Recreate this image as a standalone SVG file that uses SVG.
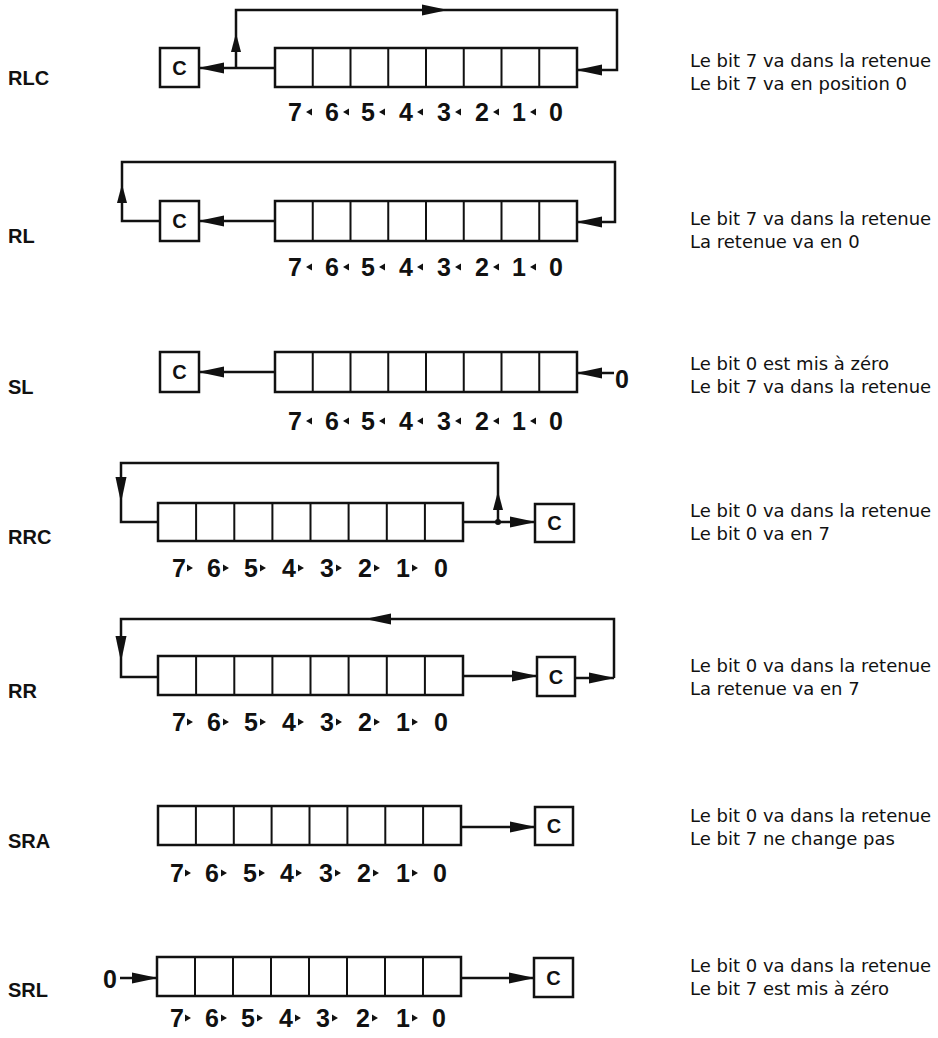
<svg xmlns="http://www.w3.org/2000/svg" xmlns:xlink="http://www.w3.org/1999/xlink" width="938" height="1038" viewBox="0 0 938 1038">
<style>
.reg{fill:#fff;stroke:#111;stroke-width:2.5}
.cell{fill:none;stroke:#111;stroke-width:2}
.cbox{fill:#fff;stroke:#111;stroke-width:2.5}
.l{fill:none;stroke:#111;stroke-width:2.5}
.a{fill:none;stroke:#111;stroke-width:2.5;marker-end:url(#ah)}
.av{fill:none;stroke:#111;stroke-width:2.5;marker-end:url(#as)}
.lbl{font-family:"Liberation Sans",Arial,sans-serif;font-weight:bold;font-size:20px;fill:#111}
.cl{font-family:"Liberation Sans",Arial,sans-serif;font-weight:bold;font-size:20px;fill:#111;text-anchor:middle}
.d{font-family:"Liberation Sans Narrow","Liberation Sans",Arial,sans-serif;font-weight:bold;font-size:25px;fill:#111;text-anchor:middle}
.desc{font-family:"DejaVu Sans",sans-serif;font-size:18px;fill:#111}
.t{fill:#111}
</style>
<defs>
<marker id="ah" markerUnits="userSpaceOnUse" markerWidth="26" markerHeight="12" viewBox="0 0 26 12" refX="25" refY="6" orient="auto"><path d="M0,0.5 L26,6 L0,11.5 z" fill="#111"/></marker>
<marker id="as" markerUnits="userSpaceOnUse" markerWidth="19" markerHeight="11" viewBox="0 0 19 11" refX="18" refY="5.5" orient="auto"><path d="M0,0.5 L19,5.5 L0,10.5 z" fill="#111"/></marker>
<path id="tL" d="M3,-3.5 L-3,0 L3,3.5 z"/>
<path id="tR" d="M-3,-3.5 L3,0 L-3,3.5 z"/>
</defs>
<rect width="938" height="1038" fill="#fff"/>

<g id="connectors">
<!-- RLC -->
<path class="a" d="M275,68 H199"/>
<path class="av" d="M236,68 V34"/>
<path class="a" d="M236,34 V10 H447"/>
<path class="a" d="M447,10 H617 V70 H577"/>
<!-- RL -->
<path class="a" d="M275,221 H199"/>
<path class="av" d="M160,221 H122 V185"/>
<path class="a" d="M122,185 V162 H615 V222 H577"/>
<!-- SL -->
<path class="a" d="M275,372 H199"/>
<path class="a" d="M614,373 H577"/>
<!-- RRC -->
<path class="a" d="M463,522 H535"/>
<circle cx="498" cy="522" r="3" fill="#111"/>
<path class="av" d="M498,522 V492"/>
<path class="a" d="M498,492 V463 H121 V502"/>
<path class="l" d="M121,502 V522 H158"/>
<!-- RR -->
<path class="a" d="M463,676 H537"/>
<path class="a" d="M575,678 H614"/>
<path class="a" d="M614,678 V619 H366"/>
<path class="a" d="M366,619 H121 V661"/>
<path class="l" d="M121,661 V677 H158"/>
<!-- SRA -->
<path class="a" d="M461,827 H535"/>
<!-- SRL -->
<path class="a" d="M461,978 H534"/>
<path class="a" d="M120,978 H157"/>
</g>

<!-- RLC -->
<g id="rlc-label"><text class="lbl" x="8" y="85">RLC</text></g>
<g id="rlc-carry"><rect class="cbox" x="160" y="48" width="39" height="39"/><text class="cl" x="179.5" y="75">C</text></g>
<g id="rlc-register">
<rect class="reg" x="275" y="48" width="302" height="39"/>
<path class="cell" d="M312.75,48V87M350.5,48V87M388.25,48V87M426,48V87M463.75,48V87M501.5,48V87M539.25,48V87"/>
<g class="d"><text x="295" y="121">7</text><text x="332" y="121">6</text><text x="368" y="121">5</text><text x="406" y="121">4</text><text x="444" y="121">3</text><text x="482" y="121">2</text><text x="519" y="121">1</text><text x="556" y="121">0</text></g>
<g class="t"><use xlink:href="#tL" x="309" y="112"/><use xlink:href="#tL" x="346" y="112"/><use xlink:href="#tL" x="382" y="112"/><use xlink:href="#tL" x="420" y="112"/><use xlink:href="#tL" x="458" y="112"/><use xlink:href="#tL" x="496" y="112"/><use xlink:href="#tL" x="533" y="112"/></g>
</g>
<g id="rlc-text"><text class="desc" x="690" y="67">Le bit 7 va dans la retenue</text><text class="desc" x="690" y="90">Le bit 7 va en position 0</text></g>

<!-- RL -->
<g id="rl-label"><text class="lbl" x="8" y="243">RL</text></g>
<g id="rl-carry"><rect class="cbox" x="160" y="201" width="39" height="40"/><text class="cl" x="179.5" y="228">C</text></g>
<g id="rl-register">
<rect class="reg" x="275" y="201" width="302" height="40"/>
<path class="cell" d="M312.75,201V241M350.5,201V241M388.25,201V241M426,201V241M463.75,201V241M501.5,201V241M539.25,201V241"/>
<g class="d"><text x="295" y="276">7</text><text x="332" y="276">6</text><text x="368" y="276">5</text><text x="406" y="276">4</text><text x="444" y="276">3</text><text x="482" y="276">2</text><text x="519" y="276">1</text><text x="556" y="276">0</text></g>
<g class="t"><use xlink:href="#tL" x="309" y="267"/><use xlink:href="#tL" x="346" y="267"/><use xlink:href="#tL" x="382" y="267"/><use xlink:href="#tL" x="420" y="267"/><use xlink:href="#tL" x="458" y="267"/><use xlink:href="#tL" x="496" y="267"/><use xlink:href="#tL" x="533" y="267"/></g>
</g>
<g id="rl-text"><text class="desc" x="690" y="225">Le bit 7 va dans la retenue</text><text class="desc" x="690" y="248">La retenue va en 0</text></g>

<!-- SL -->
<g id="sl-label"><text class="lbl" x="8" y="394">SL</text></g>
<g id="sl-carry"><rect class="cbox" x="160" y="352" width="39" height="40"/><text class="cl" x="179.5" y="379">C</text></g>
<g id="sl-register">
<rect class="reg" x="275" y="352" width="302" height="40"/>
<path class="cell" d="M312.75,352V392M350.5,352V392M388.25,352V392M426,352V392M463.75,352V392M501.5,352V392M539.25,352V392"/>
<g class="d"><text x="295" y="430">7</text><text x="332" y="430">6</text><text x="368" y="430">5</text><text x="406" y="430">4</text><text x="444" y="430">3</text><text x="482" y="430">2</text><text x="519" y="430">1</text><text x="556" y="430">0</text></g>
<g class="t"><use xlink:href="#tL" x="309" y="421"/><use xlink:href="#tL" x="346" y="421"/><use xlink:href="#tL" x="382" y="421"/><use xlink:href="#tL" x="420" y="421"/><use xlink:href="#tL" x="458" y="421"/><use xlink:href="#tL" x="496" y="421"/><use xlink:href="#tL" x="533" y="421"/></g>
</g>
<g id="sl-zero"><text class="d" x="622" y="388">0</text></g>
<g id="sl-text"><text class="desc" x="690" y="370">Le bit 0 est mis à zéro</text><text class="desc" x="690" y="393">Le bit 7 va dans la retenue</text></g>

<!-- RRC -->
<g id="rrc-label"><text class="lbl" x="8" y="544">RRC</text></g>
<g id="rrc-register">
<rect class="reg" x="158" y="503" width="305" height="38"/>
<path class="cell" d="M196.1,503V541M234.3,503V541M272.4,503V541M310.5,503V541M348.6,503V541M386.8,503V541M424.9,503V541"/>
<g class="d"><text x="179" y="577">7</text><text x="214" y="577">6</text><text x="251" y="577">5</text><text x="289" y="577">4</text><text x="327" y="577">3</text><text x="365" y="577">2</text><text x="403" y="577">1</text><text x="441" y="577">0</text></g>
<g class="t"><use xlink:href="#tR" x="190" y="568"/><use xlink:href="#tR" x="226" y="568"/><use xlink:href="#tR" x="263" y="568"/><use xlink:href="#tR" x="301" y="568"/><use xlink:href="#tR" x="339" y="568"/><use xlink:href="#tR" x="377" y="568"/><use xlink:href="#tR" x="415" y="568"/></g>
</g>
<g id="rrc-carry"><rect class="cbox" x="535" y="504" width="39" height="38"/><text class="cl" x="554.5" y="530">C</text></g>
<g id="rrc-text"><text class="desc" x="690" y="517">Le bit 0 va dans la retenue</text><text class="desc" x="690" y="540">Le bit 0 va en 7</text></g>

<!-- RR -->
<g id="rr-label"><text class="lbl" x="8" y="698">RR</text></g>
<g id="rr-register">
<rect class="reg" x="158" y="656" width="305" height="39"/>
<path class="cell" d="M196.1,656V695M234.3,656V695M272.4,656V695M310.5,656V695M348.6,656V695M386.8,656V695M424.9,656V695"/>
<g class="d"><text x="179" y="731">7</text><text x="214" y="731">6</text><text x="251" y="731">5</text><text x="289" y="731">4</text><text x="327" y="731">3</text><text x="365" y="731">2</text><text x="403" y="731">1</text><text x="441" y="731">0</text></g>
<g class="t"><use xlink:href="#tR" x="190" y="722"/><use xlink:href="#tR" x="226" y="722"/><use xlink:href="#tR" x="263" y="722"/><use xlink:href="#tR" x="301" y="722"/><use xlink:href="#tR" x="339" y="722"/><use xlink:href="#tR" x="377" y="722"/><use xlink:href="#tR" x="415" y="722"/></g>
</g>
<g id="rr-carry"><rect class="cbox" x="537" y="657" width="38" height="39"/><text class="cl" x="556" y="684">C</text></g>
<g id="rr-text"><text class="desc" x="690" y="672">Le bit 0 va dans la retenue</text><text class="desc" x="690" y="695">La retenue va en 7</text></g>

<!-- SRA -->
<g id="sra-label"><text class="lbl" x="8" y="848">SRA</text></g>
<g id="sra-register">
<rect class="reg" x="158" y="806" width="303" height="39"/>
<path class="cell" d="M195.9,806V845M233.8,806V845M271.6,806V845M309.5,806V845M347.4,806V845M385.3,806V845M423.1,806V845"/>
<g class="d"><text x="177" y="882">7</text><text x="212" y="882">6</text><text x="250" y="882">5</text><text x="287" y="882">4</text><text x="326" y="882">3</text><text x="364" y="882">2</text><text x="403" y="882">1</text><text x="440" y="882">0</text></g>
<g class="t"><use xlink:href="#tR" x="188" y="873"/><use xlink:href="#tR" x="224" y="873"/><use xlink:href="#tR" x="262" y="873"/><use xlink:href="#tR" x="299" y="873"/><use xlink:href="#tR" x="338" y="873"/><use xlink:href="#tR" x="376" y="873"/><use xlink:href="#tR" x="415" y="873"/></g>
</g>
<g id="sra-carry"><rect class="cbox" x="535" y="807" width="38" height="38"/><text class="cl" x="554" y="833">C</text></g>
<g id="sra-text"><text class="desc" x="690" y="822">Le bit 0 va dans la retenue</text><text class="desc" x="690" y="845">Le bit 7 ne change pas</text></g>

<!-- SRL -->
<g id="srl-label"><text class="lbl" x="8" y="997">SRL</text></g>
<g id="srl-zero"><text class="d" x="110" y="988">0</text></g>
<g id="srl-register">
<rect class="reg" x="157" y="957" width="304" height="39"/>
<path class="cell" d="M195,957V996M233,957V996M271,957V996M309,957V996M347,957V996M385,957V996M423,957V996"/>
<g class="d"><text x="177" y="1027">7</text><text x="212" y="1027">6</text><text x="248" y="1027">5</text><text x="286" y="1027">4</text><text x="323" y="1027">3</text><text x="363" y="1027">2</text><text x="403" y="1027">1</text><text x="439" y="1027">0</text></g>
<g class="t"><use xlink:href="#tR" x="188" y="1018"/><use xlink:href="#tR" x="224" y="1018"/><use xlink:href="#tR" x="260" y="1018"/><use xlink:href="#tR" x="298" y="1018"/><use xlink:href="#tR" x="335" y="1018"/><use xlink:href="#tR" x="375" y="1018"/><use xlink:href="#tR" x="415" y="1018"/></g>
</g>
<g id="srl-carry"><rect class="cbox" x="534" y="958" width="39" height="39"/><text class="cl" x="553.5" y="985">C</text></g>
<g id="srl-text"><text class="desc" x="690" y="972">Le bit 0 va dans la retenue</text><text class="desc" x="690" y="995">Le bit 7 est mis à zéro</text></g>
</svg>
